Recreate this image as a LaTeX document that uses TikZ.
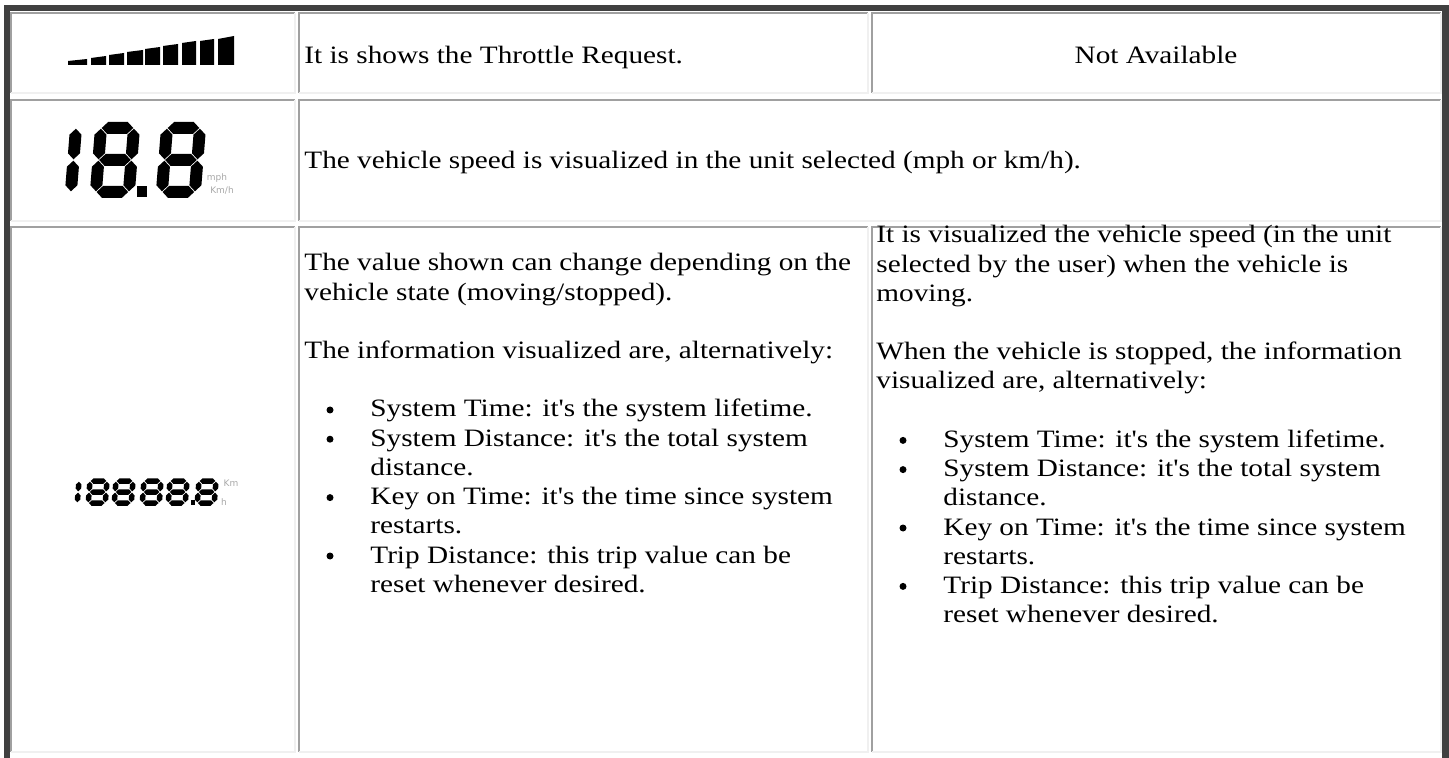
\documentclass[tikz,border=0pt]{standalone}
\usepackage{fontspec}
\setmainfont{Liberation Serif}[FakeStretch=1.17, Ligatures=TeXOff]
\newfontfamily\lcdfont{DejaVu Sans}
\usepackage{tikz}

\definecolor{framedark}{HTML}{404040}
\definecolor{cellhi}{HTML}{A0A0A0}
\definecolor{celllo}{HTML}{F0F0F0}
\definecolor{lcdgray}{HTML}{A8A8A8}

\tikzset{
    celltext/.style={anchor=base west, inner sep=0pt, font=\fontsize{12.5pt}{14.6pt}\selectfont},
    unittext/.style={inner sep=0pt, text=lcdgray, font=\lcdfont\fontsize{4.5pt}{5pt}\selectfont},
    pics/lcdeight/.style n args={3}{code={
        \pgfmathsetmacro\segw{#1}\pgfmathsetmacro\segh{#2}\pgfmathsetmacro\segt{#3/2}
        \pgfmathsetmacro\segg{0.7}
        \foreach \sy in {0,\segh,2*\segh}
            \fill ({\segg},{\sy}) -- ({\segg+\segt},{\sy-\segt}) -- ({\segw-\segg-\segt},{\sy-\segt})
                -- ({\segw-\segg},{\sy}) -- ({\segw-\segg-\segt},{\sy+\segt}) -- ({\segg+\segt},{\sy+\segt}) -- cycle;
        \foreach \sx in {0,\segw} \foreach \sy in {0,\segh}
            \fill ({\sx},{\sy+\segg}) -- ({\sx+\segt},{\sy+\segg+\segt}) -- ({\sx+\segt},{\sy+\segh-\segg-\segt})
                -- ({\sx},{\sy+\segh-\segg}) -- ({\sx-\segt},{\sy+\segh-\segg-\segt}) -- ({\sx-\segt},{\sy+\segg+\segt}) -- cycle;
    }},
    pics/lcdone/.style n args={2}{code={
        \pgfmathsetmacro\segh{#1}\pgfmathsetmacro\segt{#2/2}
        \pgfmathsetmacro\segg{0.7}
        \foreach \sy in {0,\segh}
            \fill (0,{\sy+\segg}) -- ({\segt},{\sy+\segg+\segt}) -- ({\segt},{\sy+\segh-\segg-\segt})
                -- (0,{\sy+\segh-\segg}) -- ({-\segt},{\sy+\segh-\segg-\segt}) -- ({-\segt},{\sy+\segg+\segt}) -- cycle;
    }},
}

\begin{document}
\begin{tikzpicture}[x=0.5pt, y=-0.5pt]
    \useasboundingbox (0,0) rectangle (1449,758);

    % outer frame of the table
    \fill[framedark] (4,5) rectangle (10,758);
    \fill[framedark] (4,5) rectangle (1449,11);
    \fill[framedark] (1442,5) rectangle (1449,758);

    % cells
    \foreach \xa/\ya/\xb/\yb in {11/13/295/93, 299/13/868/93, 872/13/1441/93,
                                 11/100/295/221, 299/100/1441/221,
                                 11/227/295/752, 299/227/868/752, 872/227/1441/752} {
        \draw[cellhi, line width=1pt] (\xa,\yb) -- (\xa,\ya) -- (\xb,\ya);
        \draw[celllo, line width=1pt] (\xb,\ya) -- (\xb,\yb) -- (\xa,\yb);
    }

    % throttle bar graph
    \foreach \xa/\xb/\ya/\yb in {68/87/61/59, 91/106/58/56, 109/124/55/53, 127/143/52/50, 145/160/49/47,
                                 163/178/46/44, 182/196/43/41, 200/214/41/39, 218/234/39/36}
        \fill (\xa,65) -- (\xa,\ya) -- (\xb,\yb) -- (\xb,65) -- cycle;

    % speed display
    \pic[xslant=0.08] at (76,128) {lcdone={32}{12}};
    \pic[xslant=0.08] at (101,128) {lcdeight={33}{32}{12}};
    \fill (137,186) rectangle (147,197);
    \pic[xslant=0.08] at (167,128) {lcdeight={33}{32}{12}};
    \node[unittext] (mph) at (217,178) {mph};
    \node[unittext] (kmh) at (222,191) {Km/h};

    % odometer display
    \pic[xslant=0.08] at (79,481) {lcdone={11}{5.5}};
    \foreach \dx in {90,116,144,170,199}
        \pic[xslant=0.08] at (\dx,481) {lcdeight={17}{11}{5.5}};
    \fill (191,500) rectangle (195,505);
    \node[unittext] (km) at (231,483) {Km};
    \node[unittext] (hr) at (224,502) {h};

    % row 1
    \node[celltext] (throttle) at (304,64) {It is shows the Throttle Request.};
    \node[celltext, anchor=base] (notavail) at (1156,64) {Not Available};

    % row 2
    \node[celltext] (speed) at (304,169) {The vehicle speed is visualized in the unit selected (mph or km/h).};

    % row 3, middle column
    \foreach \row/\txt [count=\k] in {0/{The value shown can change depending on the},
                                     1/{vehicle state (moving/stopped).},
                                     3/{The information visualized are, alternatively:},
                                     5/{System Time: it's the system lifetime.},
                                     6/{System Distance: it's the total system},
                                     8/{Key on Time: it's the time since system},
                                     10/{Trip Distance: this trip value can be}}
        \node[celltext] (midline\k) at ({\row>4 ? 370 : 304},{271+29.2*\row}) {\txt};
    \node[celltext] (midwrap1) at (370,{271+29.2*7}) {distance.};
    \node[celltext] (midwrap2) at (370,{271+29.2*9}) {restarts.};
    \node[celltext] (midwrap3) at (370,{271+29.2*11}) {reset whenever desired.};
    \foreach \row in {5,6,8,10}
        \fill (330,{264+29.2*\row}) circle (3.5);

    % row 3, right column
    \foreach \row/\txt [count=\k] in {0/{It is visualized the vehicle speed (in the unit},
                                     1/{selected by the user) when the vehicle is},
                                     2/{moving.},
                                     4/{When the vehicle is stopped, the information},
                                     5/{visualized are, alternatively:},
                                     7/{System Time: it's the system lifetime.},
                                     8/{System Distance: it's the total system},
                                     10/{Key on Time: it's the time since system},
                                     12/{Trip Distance: this trip value can be}}
        \node[celltext] (rightline\k) at ({\row>6 ? 943 : 876},{243+29.2*\row}) {\txt};
    \node[celltext] (rightwrap1) at (943,{243+29.2*9}) {distance.};
    \node[celltext] (rightwrap2) at (943,{243+29.2*11}) {restarts.};
    \node[celltext] (rightwrap3) at (943,{243+29.2*13}) {reset whenever desired.};
    \foreach \row in {7,8,10,12}
        \fill (903,{236+29.2*\row}) circle (3.5);
\end{tikzpicture}
\end{document}
